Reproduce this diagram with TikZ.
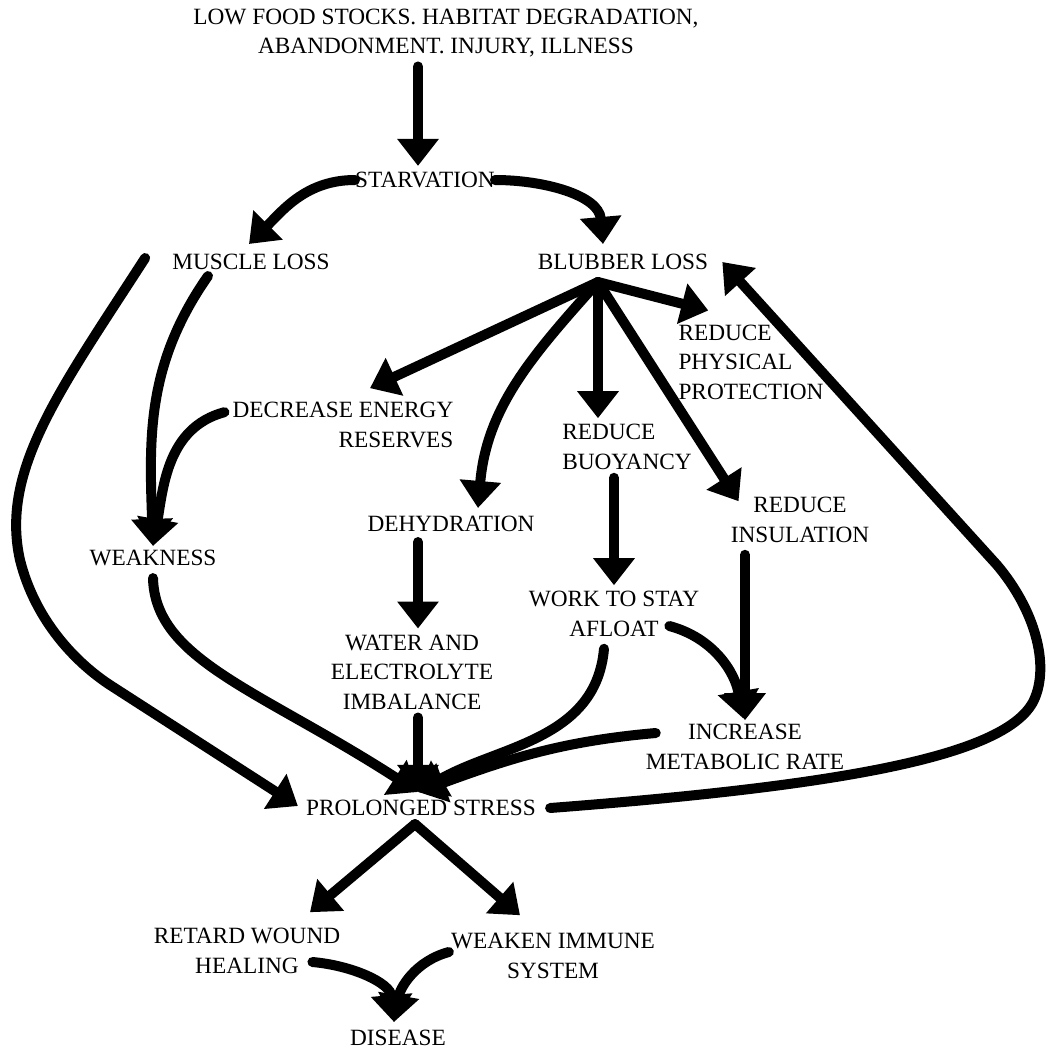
\documentclass[tikz,border=0pt]{standalone}
\usepackage{fontspec}
\setmainfont{Liberation Serif}
\usetikzlibrary{arrows.meta, positioning, calc}

\begin{document}
\begin{tikzpicture}[x=1pt, y=1pt,
    every node/.style={font=\fontsize{23.3}{29.5}\selectfont, inner sep=0pt, align=center},
    arr/.style={line width=10pt, line cap=round, -{Triangle[width=40pt, length=27pt]}}
]
    \useasboundingbox (0,0) rectangle (1049,-1053);

    % causes and first split
    \node (src) at (446,-33) {LOW FOOD STOCKS. HABITAT DEGRADATION,\\ABANDONMENT. INJURY, ILLNESS};
    \node (starv) at (425,-180) {STARVATION};
    \node (muscle) at (251,-262) {MUSCLE LOSS};
    \node (blubber) at (623,-262) {BLUBBER LOSS};
    % effects of blubber and muscle loss
    \node[align=right] (decr) at (343,-425) {DECREASE ENERGY\\RESERVES};
    \node (weak) at (153,-558) {WEAKNESS};
    \node (dehyd) at (451,-524) {DEHYDRATION};
    \node[align=left] (buoy) at (627,-447) {REDUCE\\BUOYANCY};
    \node[align=left] (phys) at (751,-362) {REDUCE\\PHYSICAL\\PROTECTION};
    \node (insul) at (800,-520) {REDUCE\\INSULATION};
    \node (afloat) at (614,-614) {WORK TO STAY\\AFLOAT};
    \node (water) at (412,-672) {WATER AND\\ELECTROLYTE\\IMBALANCE};
    \node (incr) at (745,-747) {INCREASE\\METABOLIC RATE};
    % stress and outcomes
    \node (stress) at (421,-808) {PROLONGED STRESS};
    \node (retard) at (247,-951) {RETARD WOUND\\HEALING};
    \node (weaken) at (553,-956) {WEAKEN IMMUNE\\SYSTEM};
    \node (disease) at (398,-1038) {DISEASE};

    \coordinate (hub) at ($(blubber.south)+(-25,-12)$);

    \draw[arr] ($(src.south)+(-28,-9)$) -- ($(starv.north)+(-7,6)$);
    \draw[arr] (starv.west) to[out=180, in=45] ($(muscle.north)+(-2,10)$);
    \draw[arr] (starv.east) to[out=0, in=95] ($(blubber.north)+(-20,10)$);

    % long loop from muscle loss
    \draw[arr] ($(muscle.west)+(-27,4)$) .. controls (60,-390) and (0,-470) .. (20,-560)
        .. controls (35,-620) and (75,-662) .. (110,-685) -- ($(stress.west)+(-8,2)$);
    \draw[arr] ($(muscle.south)+(-43,-6)$) to[out=235, in=92] ($(weak.north)+(0,4)$);
    \draw[arr] ($(decr.north west)+(-8,-10)$) to[out=195, in=80] ($(weak.north)+(0,4)$);

    % blubber loss fan
    \draw[arr] (hub) -- ($(decr.north)+(27,14)$);
    \draw[arr] (hub) to[out=228, in=85] ($(dehyd.north)+(27,8)$);
    \draw[arr] (hub) -- ($(hub |- buoy.north)+(0,6)$);
    \draw[arr] (hub) -- ($(phys.north west)+(30,14)$);
    \draw[arr] (hub) -- ($(insul.north west)+(8,-4)$);

    \draw[arr] ($(buoy.south -| afloat.north)+(0,-8)$) -- ($(afloat.north)+(0,6)$);
    \draw[arr] ($(dehyd.south)+(-33,-10)$) -- ($(water.north)+(6,6)$);
    \draw[arr] ($(insul.south -| incr.north)+(0,-12)$) -- ($(incr.north)+(0,4)$);
    \draw[arr] ($(afloat.east)+(-30,-12)$) to[out=-15, in=100] ($(incr.north)+(-2,6)$);

    % into prolonged stress
    \draw[arr] ($(weak.south)+(0,-12)$) .. controls (155,-660) and (260,-690) .. ($(stress.north)+(-3,8)$);
    \draw[arr] ($(water.south -| stress.north)+(-3,-8)$) -- ($(stress.north)+(-3,8)$);
    \draw[arr] ($(afloat.south)+(-10,-12)$) to[out=-95, in=30] ($(stress.north)+(-3,8)$);
    \draw[arr] ($(incr.west)+(10,14)$) to[out=185, in=20] ($(stress.north)+(-3,8)$);

    % feedback to blubber loss
    \draw[arr] ($(stress.east)+(14,0)$) .. controls (850,-785) and (1008,-755) .. (1034,-700)
        .. controls (1050,-665) and (1035,-610) .. (997,-565) -- ($(blubber.east)+(14,0)$);

    \draw[arr] ($(stress.south)+(-6,-8)$) -- ($(retard.north)+(63,16)$);
    \draw[arr] ($(stress.south)+(-6,-8)$) -- ($(weaken.north)+(-33,18)$);
    \draw[arr] ($(retard.east)+(-28,-11)$) to[out=-5, in=95] ($(disease.north)+(-4,8)$);
    \draw[arr] ($(weaken.west)+(-2,4)$) to[out=195, in=80] ($(disease.north)+(-4,8)$);
\end{tikzpicture}
\end{document}
